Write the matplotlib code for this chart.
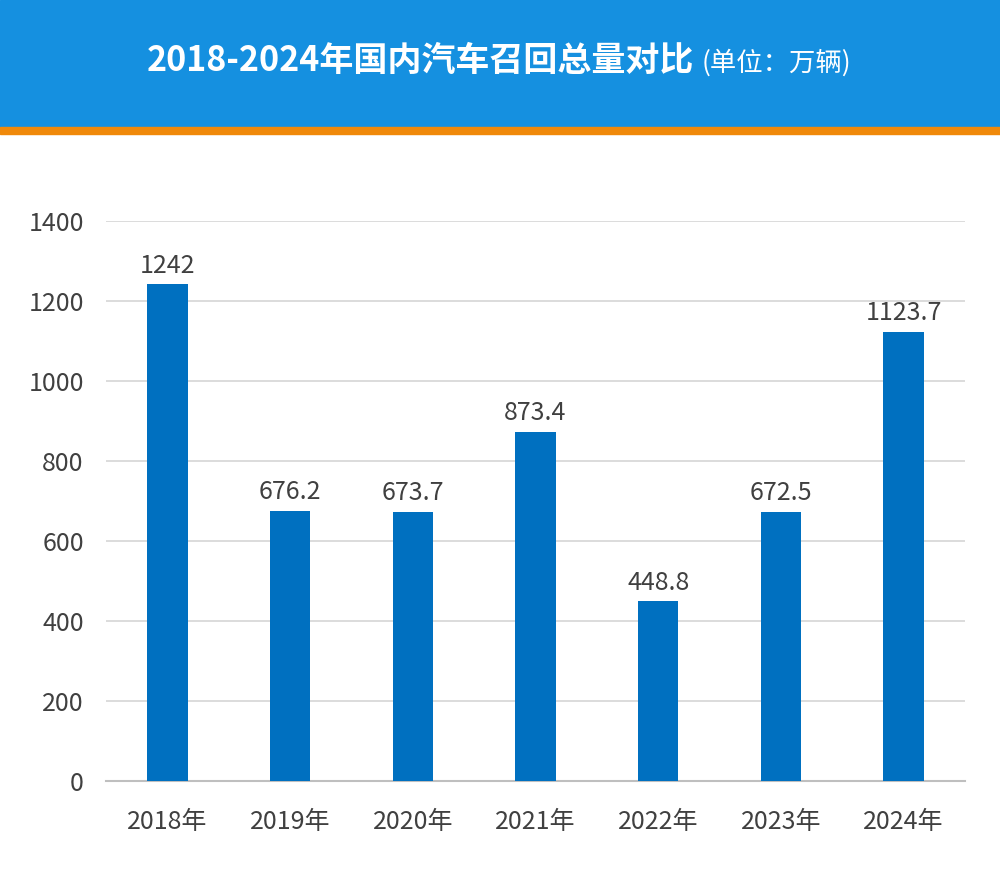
import matplotlib.pyplot as plt
from matplotlib.patches import Rectangle

# data
years = ["2018年", "2019年", "2020年", "2021年", "2022年", "2023年", "2024年"]
recalls = [1242, 676.2, 673.7, 873.4, 448.8, 672.5, 1123.7]
value_labels = ["1242", "676.2", "673.7", "873.4", "448.8", "672.5", "1123.7"]
yticks = [0, 200, 400, 600, 800, 1000, 1200, 1400]

plt.rcParams["font.family"] = ["Noto Sans CJK SC", "DejaVu Sans"]

fig = plt.figure(figsize=(10, 8.74), dpi=100)

# header banner with orange strip
fig.patches.append(Rectangle((0, 1 - 127 / 874), 1, 127 / 874, transform=fig.transFigure,
                             color="#1590e0", zorder=0))
fig.patches.append(Rectangle((0, 1 - 134 / 874), 1, 7 / 874, transform=fig.transFigure,
                             color="#f0890a", zorder=0))

fig.text(0.420, 1 - 61 / 874, "2018-2024年国内汽车召回总量对比", color="white",
         fontsize=24.5, fontweight="bold", ha="center", va="center")
fig.text(0.702, 1 - 63 / 874, "(单位：万辆)", color="white", fontsize=19,
         ha="left", va="center")

ax = fig.add_axes([0.106, 1 - 781 / 874, 0.859, 560 / 874])
x = range(len(years))
ax.bar(x, recalls, width=0.33, color="#0070c0", zorder=3)

for xi, v, lab in zip(x, recalls, value_labels):
    ax.text(xi, v + 14, lab, ha="center", va="bottom", fontsize=18, color="#404040",
            zorder=4)

ax.set_xlim(-0.5, len(years) - 0.5)
ax.set_ylim(0, 1400)
ax.set_yticks(yticks)
ax.set_xticks(list(x))
ax.set_xticklabels(years)
ax.tick_params(axis="both", length=0, labelsize=18, labelcolor="#404040")
ax.tick_params(axis="y", pad=16)
ax.tick_params(axis="x", pad=20)
ax.grid(axis="y", color="#d9d9d9", linewidth=1.3, zorder=0)
for s in ["top", "right", "left"]:
    ax.spines[s].set_visible(False)
ax.spines["bottom"].set_color("#bfbfbf")
ax.spines["bottom"].set_linewidth(1.5)

fig.savefig("out.png", dpi=100)
